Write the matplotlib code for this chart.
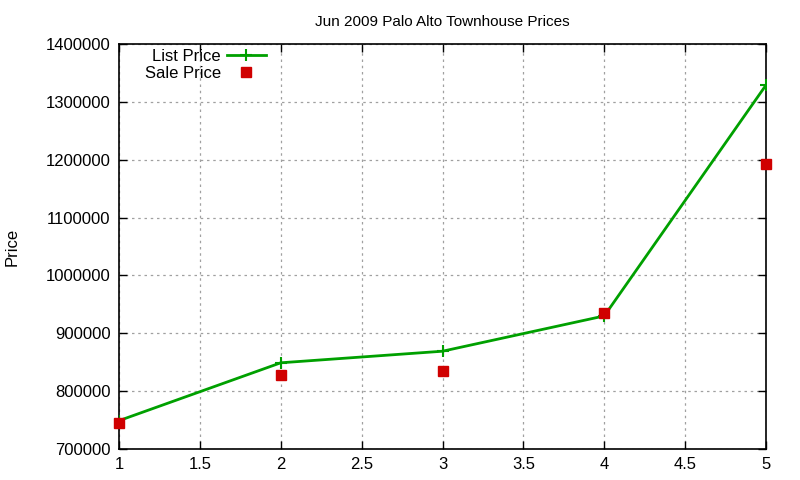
import matplotlib
matplotlib.use("Agg")
import matplotlib.pyplot as plt

plt.rcParams['font.family'] = ['Liberation Sans', 'DejaVu Sans']

# values
listings = [1, 2, 3, 4, 5]
list_price = [749000, 849000, 869000, 930000, 1329000]
sale_price = [745000, 828000, 835000, 935000, 1192000]

x_ticks = [1, 1.5, 2, 2.5, 3, 3.5, 4, 4.5, 5]
y_ticks = [700000, 800000, 900000, 1000000, 1100000, 1200000, 1300000, 1400000]

fig = plt.figure(figsize=(8, 4.8), dpi=100)
ax = fig.add_axes([119 / 800, 1 - 449 / 480, (766 - 119) / 800, (449 - 44) / 480])

ax.plot(listings, list_price, color='#00a000', lw=2, marker='+', ms=9, mew=1.5,
        label='List Price', zorder=3)
ax.plot(listings, sale_price, ls='none', color='#d00000', marker='s', ms=6.5,
        label='Sale Price', zorder=4, clip_on=False)

ax.set_xlim(1, 5)
ax.set_ylim(700000, 1400000)
ax.set_xticks(x_ticks)
ax.set_xticklabels([f"{t:g}" for t in x_ticks])
ax.set_yticks(y_ticks)
ax.set_yticklabels([str(t) for t in y_ticks])

ax.tick_params(direction='in', length=6, width=1, top=True, right=True,
               labelsize=12, pad=6, colors='black')
ax.tick_params(axis='x', labeltop=False)
ax.grid(True, color='#a0a0a0', ls=(0, (2, 3)), lw=0.9)
for s in ax.spines.values():
    s.set_linewidth(1.2)

ax.set_title('Jun 2009 Palo Alto Townhouse Prices', fontsize=11, pad=13)
fig.text(12 / 800, 1 - 247 / 480, 'Price', rotation=90, ha='center', va='center',
         fontsize=12)

ax.legend(loc='upper left', bbox_to_anchor=(0.024, 1.012), frameon=False,
          markerfirst=False, fontsize=12, handlelength=2.3, handletextpad=0.4,
          labelspacing=0.12, borderaxespad=0.2)

fig.savefig('out.png', dpi=100)
